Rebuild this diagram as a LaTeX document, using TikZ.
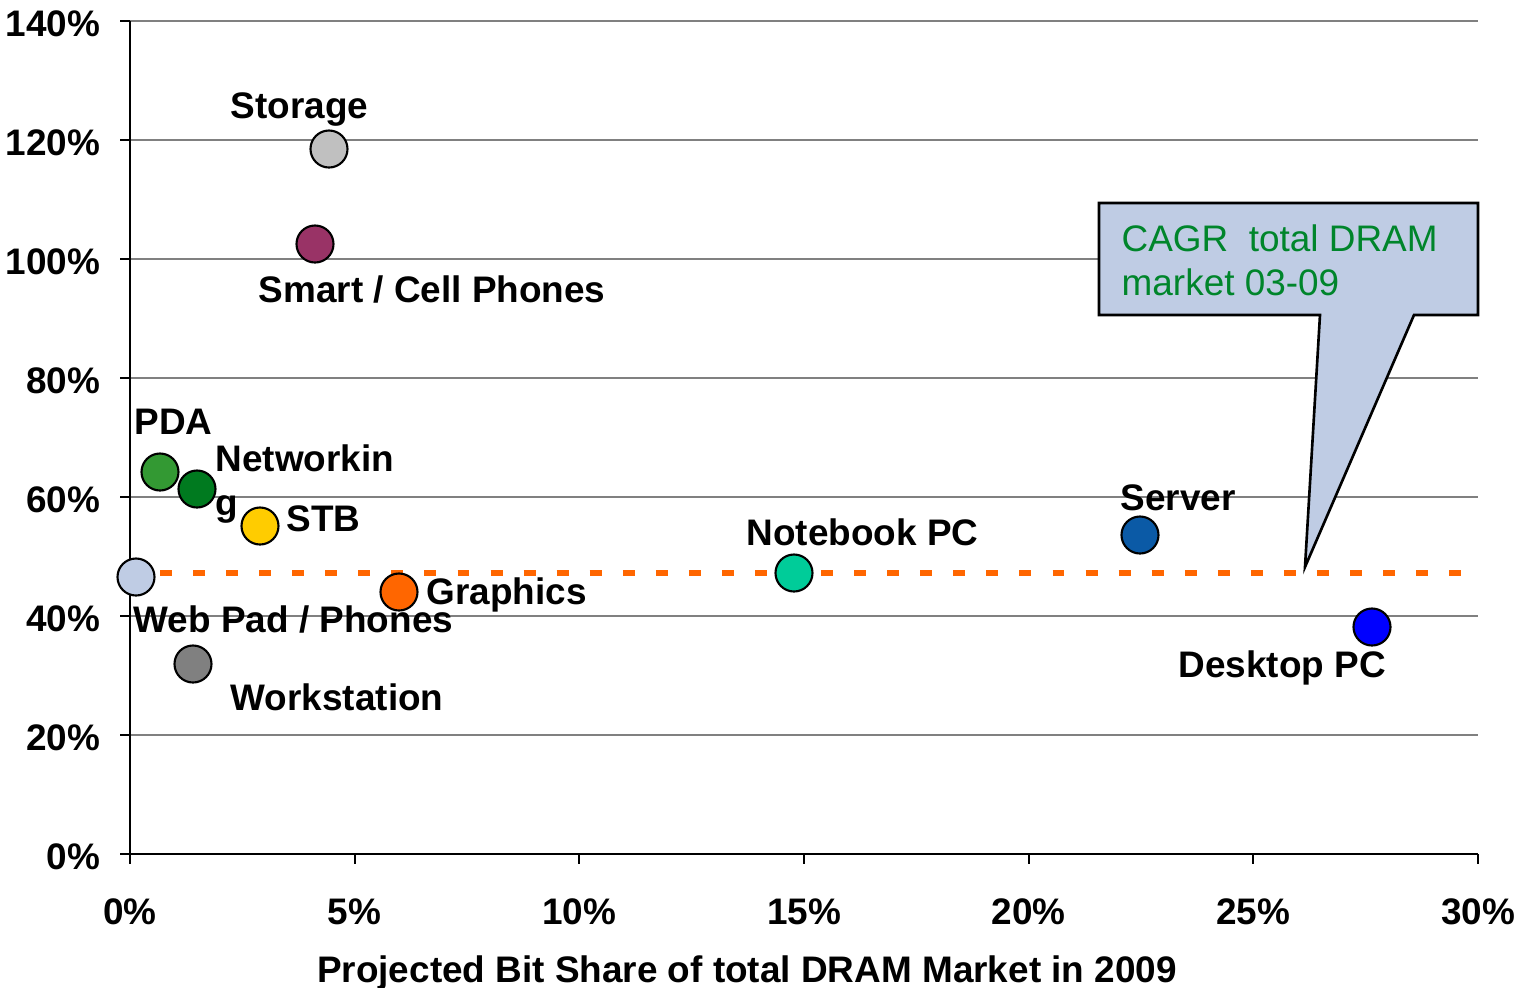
\documentclass[tikz,border=0pt]{standalone}
\usepackage{fontspec}
\setmainfont{Liberation Sans}
\usetikzlibrary{shapes.geometric}
\definecolor{gridgray}{HTML}{808080}
\definecolor{storagegray}{HTML}{C0C0C0}
\definecolor{smartpurple}{HTML}{993366}
\definecolor{pdagreen}{HTML}{339933}
\definecolor{netgreen}{HTML}{007A1F}
\definecolor{stbyellow}{HTML}{FFCC00}
\definecolor{webblue}{HTML}{BFCCE4}
\definecolor{gfxorange}{HTML}{FF6600}
\definecolor{wsgray}{HTML}{808080}
\definecolor{nbteal}{HTML}{00CC99}
\definecolor{srvblue}{HTML}{0B5AA6}
\definecolor{dtblue}{HTML}{0000FF}
\definecolor{notegreen}{HTML}{00852B}

\begin{document}
\begin{tikzpicture}[x=0.01cm,y=-0.01cm,
    every node/.style={font=\fontsize{10.5}{12.5}\selectfont\bfseries, inner sep=0pt},
    dot/.style={circle, draw=black, line width=0.6pt, minimum size=0.37cm},
    lbl/.style={anchor=base west, align=left},
    grid/.style={gridgray, line width=0.45pt},
    axis/.style={black, line width=0.6pt},
    cagr/.style={gfxorange, line width=1.5pt, dash pattern=on 3.4pt off 6pt},
    callout/.style={draw=black, fill=webblue, line width=0.75pt, line join=miter},
    note/.style={anchor=base west, align=left, text=notegreen,
      font=\fontsize{10.5}{12.5}\selectfont}]

\useasboundingbox (0,0) rectangle (1532,987);

% grid lines and y labels
\foreach \y/\t in {21/140,140/120,259/100,378/80,497/60,616/40,735/20}
  \draw[grid] (130,\y) -- (1478,\y);
\foreach \y/\t in {21/140,140/120,259/100,378/80,497/60,616/40,735/20,854/0}
{
  \draw[axis] (120,\y) -- (130,\y);
  \node[anchor=east] (ylab\t) at (101,\y+3) {\t\%};
}

% axes
\draw[axis] (130,21) -- (130,854);
\draw[axis] (130,854) -- (1478,854);
\foreach \k in {0,...,6}
{
  \draw[axis] (130+224.67*\k,854) -- (130+224.67*\k,864);
  \pgfmathtruncatemacro{\pct}{5*\k}
  \node[anchor=base] (xlab\k) at (130+224.67*\k,924) {\pct\%};
}
\node[anchor=base] (xtitle) at (747,982) {Projected Bit Share of total DRAM Market in 2009};

% callout
\draw[callout] (1099,203) -- (1478,203) -- (1478,315) -- (1414,315)
  -- (1305,567) -- (1320,315) -- (1099,315) -- cycle;
\node[note] (cagrnote) at (1121,295) {CAGR\ \ total DRAM\\market 03-09};

% total market line
\coordinate (cagrL) at (160,573);
\coordinate (cagrR) at (1478,573);
\draw[cagr] (cagrL) -- (cagrR);

% segments
\node[dot, fill=storagegray] (storage) at (329,149) {};
\node[dot, fill=smartpurple] (smart) at (315,244) {};
\node[dot, fill=pdagreen] (pda) at (160,472) {};
\node[dot, fill=netgreen] (net) at (197,489) {};
\node[dot, fill=stbyellow] (stb) at (260,526) {};
\node[dot, fill=webblue] (webpad) at (136,577) {};
\node[dot, fill=gfxorange] (gfx) at (399,592) {};
\node[dot, fill=wsgray] (ws) at (193,664) {};
\node[dot, fill=nbteal] (nb) at (794,573) {};
\node[dot, fill=srvblue] (srv) at (1140,535) {};
\node[dot, fill=dtblue] (dt) at (1372,627) {};

\node[lbl] (storagelbl) at (230,118) {Storage};
\node[lbl] (smartlbl) at (258,302) {Smart / Cell Phones};
\node[lbl] (pdalbl) at (134,434) {PDA};
\node[lbl] (netlbl) at (215,515) {Networkin\\g};
\node[lbl] (stblbl) at (286,531) {STB};
\node[lbl] (webpadlbl) at (133,632) {Web Pad / Phones};
\node[lbl] (gfxlbl) at (426,604) {Graphics};
\node[lbl] (wslbl) at (230,710) {Workstation};
\node[lbl] (nblbl) at (746,545) {Notebook PC};
\node[lbl] (srvlbl) at (1120,510) {Server};
\node[lbl] (dtlbl) at (1178,677) {Desktop PC};
\end{tikzpicture}
\end{document}
